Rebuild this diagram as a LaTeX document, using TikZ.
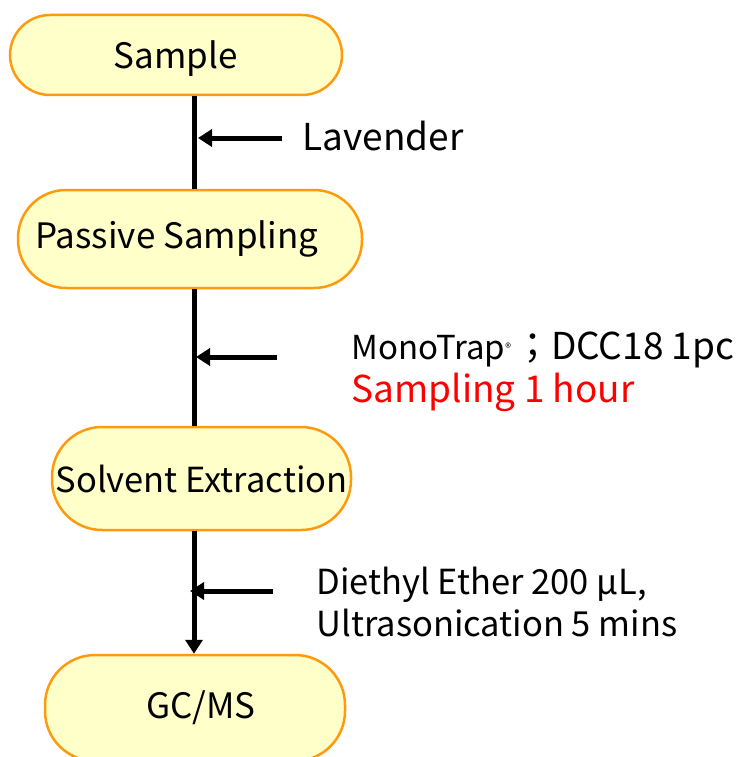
\documentclass[tikz,border=0pt]{standalone}
\usepackage{fontspec}
\setmainfont{Noto Sans CJK JP}
\usetikzlibrary{arrows.meta, positioning, calc}
\definecolor{StepFill}{HTML}{FFFFC9}
\definecolor{StepEdge}{HTML}{FF9A0E}
\definecolor{NoteRed}{HTML}{FF0000}

\begin{document}
\begin{tikzpicture}[
    x=1pt, y=-1pt,
    % Reusable styles for the flow chart
    step box/.style={fill=StepFill, draw=StepEdge, line width=2.5pt, rounded corners=40pt, inner sep=0pt, font=\fontsize{35}{38}\selectfont},
    flow line/.style={line width=5pt, draw=black},
    feed arrow/.style={line width=5pt, -{Triangle[length=14pt, width=17pt]}},
    note text/.style={anchor=west, align=left, font=\fontsize{34.5}{42}\selectfont}
]
    \useasboundingbox (0,0) rectangle (740,757);

    % -------------------------
    % Process steps
    % -------------------------
    \node[step box, minimum width=332pt, minimum height=80pt] (sample) at (176,55) {\raisebox{-14pt}[0pt][0pt]{Sample}};
    \node[step box, minimum width=344pt, minimum height=98pt, rounded corners=48pt] (passive) at (190,239) {\hspace*{-26pt}Passive Sampling};
    \node[step box, minimum width=299pt, minimum height=103pt, rounded corners=50pt, font=\fontsize{34.5}{38}\selectfont] (solvent) at (201.5,478.5) {Solvent Extraction};
    \node[step box, minimum width=300pt, minimum height=106pt, rounded corners=50pt] (gcms) at (195,708) {\hspace*{12pt}GC/MS};

    % Vertical spine that joins the steps
    \coordinate (spine) at (194,0);
    \draw[flow line] (sample.south -| spine) -- (passive.north -| spine);
    \draw[flow line] (passive.south -| spine) -- (solvent.north -| spine);
    \draw[flow line, -{Triangle[length=14pt, width=17pt]}] (solvent.south -| spine) -- (gcms.north -| spine);

    % -------------------------
    % Inputs fed into the spine
    % -------------------------
    \coordinate (lav in) at (282,138);
    \coordinate (lav tip) at (198,138);
    \draw[feed arrow] (lav in) -- (lav tip);
    \node[note text, font=\fontsize{37}{40}\selectfont] (lavender) at (299,136) {Lavender};

    \coordinate (trap in) at (277,357);
    \coordinate (trap tip) at (196,357);
    \draw[feed arrow] (trap in) -- (trap tip);
    \node[note text, font=\fontsize{37}{40}\selectfont] (trap) at (348,350)
        {{\fontsize{33}{36}\selectfont MonoTrap}\raisebox{7pt}{\fontsize{12}{12}\selectfont ®}\hspace{3pt}；DCC18 1pc};
    \node[note text, text=NoteRed, font=\fontsize{37}{40}\selectfont] (hour) at (348,392) {Sampling 1 hour};

    \coordinate (ether in) at (273,591);
    \coordinate (ether tip) at (190,591);
    \draw[feed arrow] (ether in) -- (ether tip);
    \node[note text] (ether) at (313,602) {Diethyl Ether 200 µL,\\Ultrasonication 5 mins};

\end{tikzpicture}
\end{document}
